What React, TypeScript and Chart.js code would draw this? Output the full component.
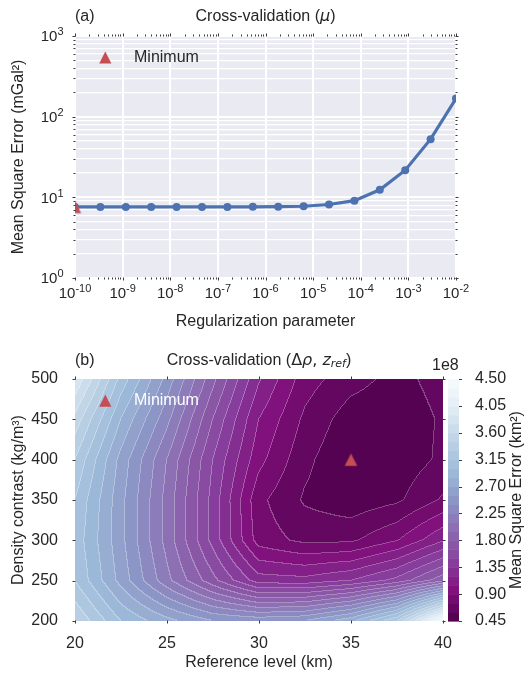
import React, { useEffect, useRef } from 'react';
import { Chart, registerables } from 'chart.js';
Chart.register(...registerables);

// ---------- Panel (a): cross-validation over the regularization parameter ----------
const MU = [1e-10, 3.41e-10, 1.166e-9, 3.98e-9, 1.359e-8, 4.64e-8, 1.585e-7, 5.41e-7, 1.848e-6, 6.31e-6, 2.154e-5, 7.36e-5, 2.512e-4, 8.58e-4, 2.929e-3, 1e-2];
const MSE_MU = [7.6, 7.6, 7.6, 7.6, 7.6, 7.6, 7.61, 7.62, 7.65, 7.75, 8.15, 9.1, 12.4, 21.7, 52.6, 168];
const MU_MIN = { x: 1e-10, y: 7.6 };
const MU_EXPONENTS = [-10, -9, -8, -7, -6, -5, -4, -3, -2];
const MSE_EXPONENTS = [0, 1, 2, 3];

// ---------- Panel (b): cross-validation over (density contrast, reference level) ----------
const ZREF = [20, 22.5, 25, 27.5, 30, 32.5, 35, 37.5, 40]; // km
const DRHO = [200, 250, 300, 350, 400, 450, 500]; // kg/m3
// Mean square error (x 1e8 km^2); one row per DRHO value, one column per ZREF value
const MSE_200 = [3.45, 3.0, 2.75, 2.55, 2.5, 2.55, 2.8, 3.3, 4.45];
const MSE_250 = [3.15, 2.65, 2.15, 1.7, 1.27, 1.25, 1.35, 1.55, 1.9];
const MSE_300 = [3.1, 2.6, 2.05, 1.45, 0.83, 0.71, 0.72, 0.89, 1.18];
const MSE_350 = [3.15, 2.6, 2.05, 1.45, 0.79, 0.58, 0.5, 0.57, 0.77];
const MSE_400 = [3.3, 2.65, 2.1, 1.5, 0.95, 0.64, 0.46, 0.5, 0.63];
const MSE_450 = [3.55, 2.85, 2.3, 1.65, 1.05, 0.72, 0.52, 0.5, 0.62];
const MSE_500 = [3.9, 3.1, 2.5, 1.85, 1.22, 0.82, 0.66, 0.55, 0.66];
const MSE_GRID = [MSE_200, MSE_250, MSE_300, MSE_350, MSE_400, MSE_450, MSE_500];
const GRID_MIN = { x: 35, y: 400 };
const ZREF_TICKS = [20, 25, 30, 35, 40];
const DRHO_TICKS = [200, 250, 300, 350, 400, 450, 500];
const CB_TICKS = [0.45, 0.9, 1.35, 1.8, 2.25, 2.7, 3.15, 3.6, 4.05, 4.5];
const LEVEL_MIN = 0.45;
const LEVEL_MAX = 4.5;
const LEVEL_STEP = 0.15;

const FONT = '"Liberation Sans", Arial, Helvetica, sans-serif';
const MATH = '"DejaVu Sans", sans-serif';
const TEXT = '#262626';
const RED = '#C44E52';
const BLUE = '#4C72B0';
const BUPU = ['#f7fcfd', '#e0ecf4', '#bfd3e6', '#9ebcda', '#8c96c6', '#8c6bb1', '#88419d', '#810f7c', '#4d004b'];

Chart.defaults.font.family = FONT;
Chart.defaults.font.size = 16;
Chart.defaults.color = TEXT;

const logExp = (v: number): number | null => {
  const e = Math.round(Math.log10(v));
  return Math.abs(v / Math.pow(10, e) - 1) < 1e-6 ? e : null;
};

function hexRgb(h: string) {
  return [parseInt(h.slice(1, 3), 16), parseInt(h.slice(3, 5), 16), parseInt(h.slice(5, 7), 16)];
}
const BUPU_R = BUPU.slice().reverse().map(hexRgb);
function cmap(t: number) {
  const p = Math.max(0, Math.min(1, t)) * (BUPU_R.length - 1);
  const i = Math.min(BUPU_R.length - 2, Math.floor(p));
  const f = p - i;
  return BUPU_R[i].map((c, k) => c + (BUPU_R[i + 1][k] - c) * f);
}
const NBANDS = Math.round((LEVEL_MAX - LEVEL_MIN) / LEVEL_STEP);
const bandColor = (k: number) => cmap((k + 0.5) / NBANDS);

function seg(arr: number[], v: number) {
  let i = 0;
  while (i < arr.length - 2 && v > arr[i + 1]) i++;
  return i;
}
function interp(xv: number, yv: number) {
  const i = seg(ZREF, xv);
  const j = seg(DRHO, yv);
  const tx = (xv - ZREF[i]) / (ZREF[i + 1] - ZREF[i]);
  const ty = (yv - DRHO[j]) / (DRHO[j + 1] - DRHO[j]);
  const g = MSE_GRID;
  return (1 - tx) * (1 - ty) * g[j][i] + tx * (1 - ty) * g[j][i + 1] + (1 - tx) * ty * g[j + 1][i] + tx * ty * g[j + 1][i + 1];
}

function makeTriangle(color: string, half: number) {
  const c = document.createElement('canvas');
  const s = Math.ceil(half * 2 + 2);
  c.width = s;
  c.height = s;
  const g = c.getContext('2d')!;
  g.fillStyle = color;
  g.beginPath();
  g.moveTo(s / 2, s / 2 - half);
  g.lineTo(s / 2 + half, s / 2 + half);
  g.lineTo(s / 2 - half, s / 2 + half);
  g.closePath();
  g.fill();
  return c;
}
function drawTri(ctx: CanvasRenderingContext2D, cx: number, cy: number, half: number, color: string) {
  ctx.save();
  ctx.fillStyle = color;
  ctx.beginPath();
  ctx.moveTo(cx, cy - half);
  ctx.lineTo(cx + half, cy + half);
  ctx.lineTo(cx - half, cy + half);
  ctx.closePath();
  ctx.fill();
  ctx.restore();
}

type Part = { t: string; font: string; dy?: number };
function drawRich(ctx: CanvasRenderingContext2D, parts: Part[], x: number, y: number, align: 'center' | 'left' | 'right', color: string, baseline: CanvasTextBaseline = 'middle') {
  ctx.save();
  ctx.textBaseline = baseline;
  ctx.textAlign = 'left';
  ctx.fillStyle = color;
  const widths = parts.map((p) => {
    ctx.font = p.font;
    return ctx.measureText(p.t).width;
  });
  const total = widths.reduce((a, b) => a + b, 0);
  let cx = align === 'center' ? x - total / 2 : align === 'right' ? x - total : x;
  parts.forEach((p, i) => {
    ctx.font = p.font;
    ctx.fillText(p.t, cx, y + (p.dy || 0));
    cx += widths[i];
  });
  ctx.restore();
}
function powParts(e: number, base: number, exp: number, raise: number): Part[] {
  return [
    { t: '10', font: `${base}px ${FONT}` },
    { t: String(e), font: `${exp}px ${FONT}`, dy: -raise },
  ];
}

function tickLine(ctx: CanvasRenderingContext2D, x1: number, y1: number, x2: number, y2: number) {
  ctx.beginPath();
  ctx.moveTo(x1, y1);
  ctx.lineTo(x2, y2);
  ctx.stroke();
}

function buildA(canvas: HTMLCanvasElement) {
  const tri = makeTriangle(RED, 6.2);
  const yTicks: number[] = [];
  MSE_EXPONENTS.forEach((e) => {
    if (e < MSE_EXPONENTS[MSE_EXPONENTS.length - 1]) for (let m = 1; m < 10; m++) yTicks.push(m * Math.pow(10, e));
    else yTicks.push(Math.pow(10, e));
  });
  const xMinor: number[] = [];
  MU_EXPONENTS.forEach((e, i) => {
    if (i < MU_EXPONENTS.length - 1) for (let m = 2; m < 10; m++) xMinor.push(m * Math.pow(10, e));
  });

  const bg = {
    id: 'bgA',
    beforeDraw(chart: any) {
      const { ctx, chartArea: a } = chart;
      ctx.save();
      ctx.fillStyle = '#EAEAF2';
      ctx.fillRect(a.left, a.top, a.right - a.left, a.bottom - a.top);
      ctx.restore();
    },
  };
  const deco = {
    id: 'decoA',
    afterDraw(chart: any) {
      const { ctx, chartArea: a, scales } = chart;
      const x = scales.x;
      const y = scales.y;
      ctx.save();
      ctx.strokeStyle = '#3a3a3a';
      ctx.lineWidth = 1;
      yTicks.forEach((v) => {
        const py = Math.round(y.getPixelForValue(v)) + 0.5;
        const L = logExp(v) !== null ? 2.5 : 1.5;
        tickLine(ctx, a.left - L, py, a.left + 0.5, py);
        tickLine(ctx, a.right - 0.5, py, a.right + L, py);
      });
      MU_EXPONENTS.map((e) => Math.pow(10, e)).concat(xMinor).forEach((v) => {
        const px = Math.round(x.getPixelForValue(v)) + 0.5;
        const L = logExp(v) !== null ? 2.5 : 1.5;
        tickLine(ctx, px, a.bottom - 0.5, px, a.bottom + L);
        tickLine(ctx, px, a.top - L, px, a.top + 0.5);
      });
      ctx.restore();
      // log tick labels with real superscripts
      MSE_EXPONENTS.forEach((e) => {
        const py = y.getPixelForValue(Math.pow(10, e));
        drawRich(ctx, powParts(e, 15, 11, 6), 63.5, py + 5.4, 'right', TEXT, 'alphabetic');
      });
      MU_EXPONENTS.forEach((e) => {
        const px = x.getPixelForValue(Math.pow(10, e));
        drawRich(ctx, powParts(e, 15, 11, 6), px, 297.5, 'center', TEXT, 'alphabetic');
      });
      const cx = (a.left + a.right) / 2;
      drawRich(ctx, [{ t: '(a)', font: `16px ${FONT}` }], a.left, 16.5, 'left', TEXT);
      drawRich(ctx, [
        { t: 'Cross-validation (', font: `16px ${FONT}` },
        { t: 'μ', font: `italic 16px ${MATH}` },
        { t: ')', font: `16px ${FONT}` },
      ], cx, 16.5, 'center', TEXT);
      drawTri(ctx, 105.3, 57.5, 6.1, RED);
      drawRich(ctx, [{ t: 'Minimum', font: `16px ${FONT}` }], 134, 57.5, 'left', TEXT);
    },
  };

  return new Chart(canvas, {
    type: 'line',
    data: {
      datasets: [
        { label: 'Minimum', data: [MU_MIN], showLine: false, pointStyle: tri as any, pointRadius: 7, clip: 0 } as any,
        {
          label: 'MSE',
          data: MU.map((v, i) => ({ x: v, y: MSE_MU[i] })),
          borderColor: BLUE,
          backgroundColor: BLUE,
          borderWidth: 3.2,
          pointRadius: 4,
          pointBorderWidth: 0,
          pointBackgroundColor: BLUE,
          clip: 0,
        } as any,
      ],
    },
    options: {
      responsive: false,
      animation: false,
      devicePixelRatio: 1,
      layout: { padding: { top: 36, right: 70, left: 0, bottom: 0 } },
      plugins: { legend: { display: false }, tooltip: { enabled: false }, title: { display: false } },
      scales: {
        x: {
          type: 'logarithmic',
          min: 1e-10,
          max: 1e-2,
          afterBuildTicks: (s: any) => {
            s.ticks = MU_EXPONENTS.map((e) => ({ value: Math.pow(10, e), major: true }));
          },
          afterFit: (s: any) => {
            s.height = 57;
          },
          ticks: { autoSkip: false, maxRotation: 0, padding: 4, color: TEXT, font: { size: 16 }, callback: () => '' },
          grid: { color: '#ffffff', lineWidth: 2, drawTicks: false },
          border: { display: false },
          title: { display: true, text: 'Regularization parameter', color: TEXT, font: { size: 16 }, padding: { top: 0, bottom: 3.4 } },
        },
        y: {
          type: 'logarithmic',
          min: 1,
          max: 1000,
          afterBuildTicks: (s: any) => {
            s.ticks = yTicks.map((v) => ({ value: v, major: logExp(v) !== null }));
          },
          afterFit: (s: any) => {
            s.width = 75;
          },
          ticks: { autoSkip: false, padding: 12, color: TEXT, font: { size: 16 }, callback: () => '' },
          grid: {
            color: '#ffffff',
            drawTicks: false,
            lineWidth: (c: any) => (c.tick && logExp(c.tick.value) !== null ? 2 : 1.2),
          },
          border: { display: false },
          title: { display: true, text: 'Mean Square Error (mGal²)', color: TEXT, font: { size: 16 }, padding: { top: 9, bottom: 0 } },
        },
      },
    } as any,
    plugins: [bg, deco],
  });
}

function buildB(canvas: HTMLCanvasElement) {
  const tri = makeTriangle(RED, 6.3);
  const contour = {
    id: 'contourB',
    beforeDatasetsDraw(chart: any) {
      const { ctx, chartArea: a, scales } = chart;
      const xs = scales.x;
      const ys = scales.y;
      const x0 = Math.round(a.left);
      const y0 = Math.round(a.top);
      const w = Math.round(a.right) - x0;
      const h = Math.round(a.bottom) - y0;
      const bands = new Int16Array(w * h);
      for (let j = 0; j < h; j++) {
        const yv = ys.getValueForPixel(y0 + j + 0.5);
        for (let i = 0; i < w; i++) {
          const xv = xs.getValueForPixel(x0 + i + 0.5);
          const v = interp(xv, yv);
          bands[j * w + i] = Math.max(0, Math.min(NBANDS - 1, Math.floor((v - LEVEL_MIN) / LEVEL_STEP)));
        }
      }
      const off = document.createElement('canvas');
      off.width = w;
      off.height = h;
      const octx = off.getContext('2d')!;
      const img = octx.createImageData(w, h);
      const cols = Array.from({ length: NBANDS }, (_, k) => bandColor(k));
      for (let j = 0; j < h; j++) {
        for (let i = 0; i < w; i++) {
          const b = bands[j * w + i];
          let c = cols[b];
          const edge = (i < w - 1 && bands[j * w + i + 1] !== b) || (j < h - 1 && bands[(j + 1) * w + i] !== b);
          if (edge) c = c.map((q) => q + (255 - q) * 0.28);
          const p = (j * w + i) * 4;
          img.data[p] = c[0];
          img.data[p + 1] = c[1];
          img.data[p + 2] = c[2];
          img.data[p + 3] = 255;
        }
      }
      octx.putImageData(img, 0, 0);
      ctx.drawImage(off, x0, y0);
    },
    afterDraw(chart: any) {
      const { ctx, chartArea: a, scales } = chart;
      const cb = scales.cb;
      const cbL = 448;
      const cbW = 11;
      for (let k = 0; k < NBANDS; k++) {
        const yLo = cb.getPixelForValue(LEVEL_MIN + k * LEVEL_STEP);
        const yHi = cb.getPixelForValue(LEVEL_MIN + (k + 1) * LEVEL_STEP);
        const c = bandColor(k).map((q) => Math.round(q));
        ctx.fillStyle = `rgb(${c[0]},${c[1]},${c[2]})`;
        ctx.fillRect(cbL, yHi, cbW, yLo - yHi + 0.6);
      }
      ctx.save();
      ctx.strokeStyle = '#3a3a3a';
      ctx.lineWidth = 1;
      CB_TICKS.forEach((v) => {
        const py = Math.round(cb.getPixelForValue(v)) + 0.5;
        tickLine(ctx, cbL + cbW, py, cbL + cbW + 3, py);
      });
      DRHO_TICKS.forEach((v) => {
        const py = Math.round(scales.y.getPixelForValue(v)) + 0.5;
        tickLine(ctx, a.left - 2.5, py, a.left + 0.5, py);
        tickLine(ctx, a.right - 0.5, py, a.right + 2.5, py);
      });
      ZREF_TICKS.forEach((v) => {
        const px = Math.round(scales.x.getPixelForValue(v)) + 0.5;
        tickLine(ctx, px, a.bottom - 0.5, px, a.bottom + 2.5);
        tickLine(ctx, px, a.top - 2.5, px, a.top + 0.5);
      });
      ctx.restore();
      drawRich(ctx, [{ t: '1e8', font: `16px ${FONT}` }], 432, 31, 'left', TEXT);
      ctx.save();
      ctx.translate(517, 165);
      ctx.rotate(-Math.PI / 2);
      drawRich(ctx, [{ t: 'Mean Square Error (km²)', font: `16px ${FONT}` }], 0, 0, 'center', TEXT);
      ctx.restore();
      drawRich(ctx, [{ t: '(b)', font: `16px ${FONT}` }], a.left, 25.5, 'left', TEXT);
      drawRich(ctx, [
        { t: 'Cross-validation (', font: `16px ${FONT}` },
        { t: 'Δ', font: `16px ${MATH}` },
        { t: 'ρ', font: `italic 16px ${MATH}` },
        { t: ', ', font: `16px ${MATH}` },
        { t: 'z', font: `italic 16px ${MATH}` },
        { t: 'ref', font: `italic 11px ${MATH}`, dy: 4 },
        { t: ')', font: `16px ${FONT}` },
      ], (a.left + a.right) / 2, 25.5, 'center', TEXT);
      drawTri(ctx, 105.3, a.top + 21.7, 6.1, RED);
      drawRich(ctx, [{ t: 'Minimum', font: `16px ${FONT}` }], 134, a.top + 21.7, 'left', '#ffffff');
    },
  };

  return new Chart(canvas, {
    type: 'scatter',
    data: {
      datasets: [{ label: 'Minimum', data: [GRID_MIN], pointStyle: tri as any, pointRadius: 7, clip: 0 } as any],
    },
    options: {
      responsive: false,
      animation: false,
      devicePixelRatio: 1,
      layout: { padding: { top: 44, right: 0, left: 0, bottom: 0 } },
      plugins: { legend: { display: false }, tooltip: { enabled: false }, title: { display: false } },
      scales: {
        x: {
          type: 'linear',
          min: 20,
          max: 40,
          afterBuildTicks: (s: any) => {
            s.ticks = ZREF_TICKS.map((v) => ({ value: v }));
          },
          afterFit: (s: any) => {
            s.height = 54;
          },
          ticks: { autoSkip: false, maxRotation: 0, padding: 5.4, color: TEXT, font: { size: 16 }, callback: (v: any) => String(v) },
          grid: { display: false },
          border: { display: false },
          title: { display: true, text: 'Reference level (km)', color: TEXT, font: { size: 16 }, padding: { top: 0, bottom: 2.4 } },
        },
        y: {
          type: 'linear',
          min: 200,
          max: 500,
          afterBuildTicks: (s: any) => {
            s.ticks = DRHO_TICKS.map((v) => ({ value: v }));
          },
          afterFit: (s: any) => {
            s.width = 75;
          },
          ticks: { autoSkip: false, padding: 9, color: TEXT, font: { size: 16 }, callback: (v: any) => String(v) },
          grid: { display: false },
          border: { display: false },
          title: { display: true, text: 'Density contrast (kg/m³)', color: TEXT, font: { size: 16 }, padding: { top: 9, bottom: 0 } },
        },
        cb: {
          type: 'linear',
          position: 'right',
          min: LEVEL_MIN,
          max: LEVEL_MAX,
          afterBuildTicks: (s: any) => {
            s.ticks = CB_TICKS.map((v) => ({ value: v }));
          },
          afterFit: (s: any) => {
            s.width = 83;
          },
          ticks: { autoSkip: false, padding: 24, color: TEXT, font: { size: 16 }, callback: (v: any) => Number(v).toFixed(2) },
          grid: { display: false },
          border: { display: false },
        },
      },
    } as any,
    plugins: [contour],
  });
}

export default function App() {
  const refA = useRef<HTMLCanvasElement>(null);
  const refB = useRef<HTMLCanvasElement>(null);
  useEffect(() => {
    const a = buildA(refA.current!);
    const b = buildB(refB.current!);
    return () => {
      a.destroy();
      b.destroy();
    };
  }, []);
  return (
    <div style={{ position: 'absolute', left: 0, top: 0, width: 526, height: 675, background: '#ffffff' }}>
      <canvas ref={refA} width={526} height={335} style={{ position: 'absolute', left: 0, top: 0, width: 526, height: 335 }} />
      <canvas ref={refB} width={526} height={340} style={{ position: 'absolute', left: 0, top: 335, width: 526, height: 340 }} />
    </div>
  );
}
